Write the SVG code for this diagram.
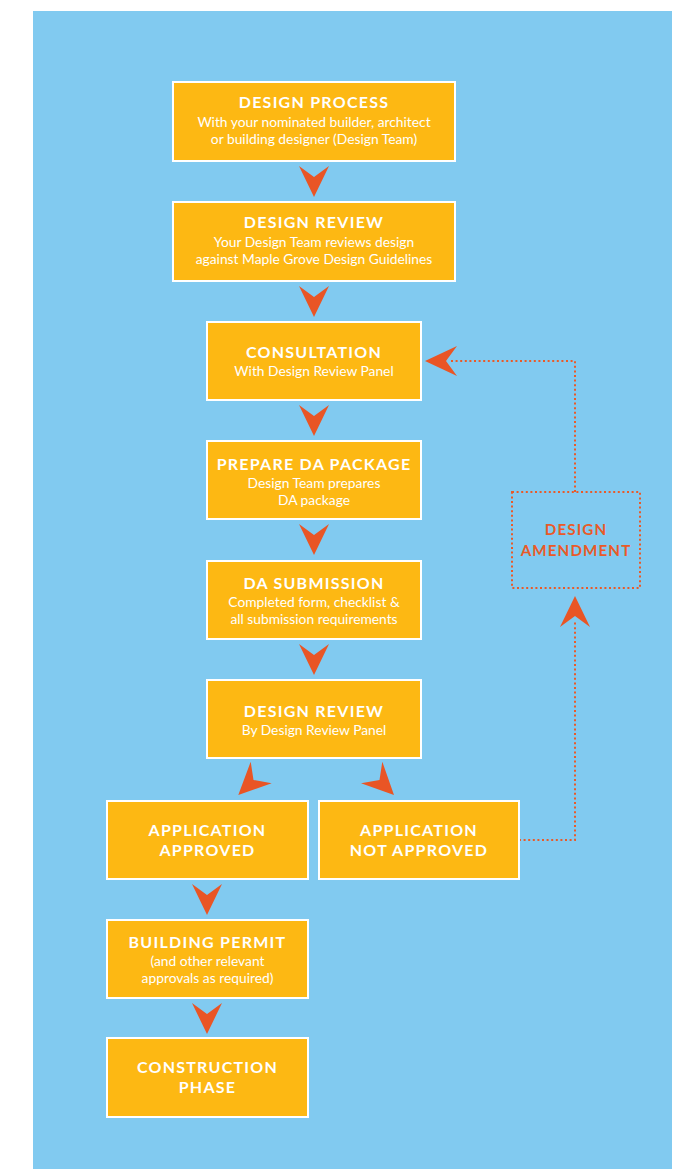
<svg xmlns="http://www.w3.org/2000/svg" width="683" height="1169" viewBox="0 0 683 1169">
<style>
.box{fill:#FDB813;stroke:#FFFFFF;stroke-width:2}
.t{font-family:Lato,"Liberation Sans",sans-serif;font-weight:700;font-size:16px;letter-spacing:1.25px;fill:#FFFFFF;text-anchor:middle}
.s{font-family:Lato,"Liberation Sans",sans-serif;font-weight:400;font-size:13.8px;fill:#FFFFFF;text-anchor:middle}
.a{font-family:Lato,"Liberation Sans",sans-serif;font-weight:700;font-size:15.2px;letter-spacing:1.1px;fill:#E95A28;text-anchor:middle}
.arr{fill:#E95525}
.dot{fill:none;stroke:#E95A28;stroke-width:2;stroke-dasharray:2 2.6}
</style>
<rect x="33" y="11" width="639" height="1158" fill="#81CAF0"/>
<g id="connectors">
<path class="arr" d="M299,166 L314,177 L329,166 L314,197 Z"/>
<path class="arr" d="M299,286 L314,297 L329,286 L314,317 Z"/>
<path class="arr" d="M299,405 L314,416 L329,405 L314,436 Z"/>
<path class="arr" d="M299,524 L314,535 L329,524 L314,555 Z"/>
<path class="arr" d="M299,644 L314,655 L329,644 L314,675 Z"/>
<path class="arr" d="M192,884 L207,895 L222,884 L207,915 Z"/>
<path class="arr" d="M192,1003 L207,1014 L222,1003 L207,1034 Z"/>
<path class="arr" d="M250.7,761.7 L253.5,780 L271.7,783.3 L238.3,795 Z"/>
<path class="arr" d="M382.3,761.7 L379.5,780 L361,783.3 L394,795 Z"/>
<path class="dot" d="M519,840 H575 V622"/>
<path class="arr" d="M575,596 L590,627 L575,616 L560,627 Z"/>
<path class="dot" d="M575,492 V361 H450"/>
<path class="arr" d="M425,361 L457,346 L446,361 L457,376 Z"/>
</g>
<g id="design-process">
<rect class="box" x="173" y="82" width="282" height="79"/>
<text class="t" x="314" y="108">DESIGN PROCESS</text>
<text class="s" x="314" y="127">With your nominated builder, architect</text>
<text class="s" x="314" y="144">or building designer (Design Team)</text>
</g>
<g id="design-review-1">
<rect class="box" x="173" y="202" width="282" height="79"/>
<text class="t" x="314" y="227.5">DESIGN REVIEW</text>
<text class="s" x="314" y="246.5">Your Design Team reviews design</text>
<text class="s" x="314" y="264">against Maple Grove Design Guidelines</text>
</g>
<g id="consultation">
<rect class="box" x="207" y="322" width="214" height="78"/>
<text class="t" x="314" y="358">CONSULTATION</text>
<text class="s" x="314" y="375.5">With Design Review Panel</text>
</g>
<g id="prepare-da">
<rect class="box" x="207" y="441" width="214" height="78"/>
<text class="t" x="314" y="470">PREPARE DA PACKAGE</text>
<text class="s" x="314" y="487.5">Design Team prepares</text>
<text class="s" x="314" y="505">DA package</text>
</g>
<g id="da-submission">
<rect class="box" x="207" y="561" width="214" height="78"/>
<text class="t" x="314" y="588.5">DA SUBMISSION</text>
<text class="s" x="314" y="607">Completed form, checklist &amp;</text>
<text class="s" x="314" y="623.5">all submission requirements</text>
</g>
<g id="design-review-2">
<rect class="box" x="207" y="680" width="214" height="78"/>
<text class="t" x="314" y="716.5">DESIGN REVIEW</text>
<text class="s" x="314" y="735">By Design Review Panel</text>
</g>
<g id="app-approved">
<rect class="box" x="107" y="801" width="201" height="78"/>
<text class="t" x="207.5" y="835.5">APPLICATION</text>
<text class="t" x="207.5" y="855.5">APPROVED</text>
</g>
<g id="app-not-approved">
<rect class="box" x="319" y="801" width="200" height="78"/>
<text class="t" x="419" y="835.5">APPLICATION</text>
<text class="t" x="419" y="855.5">NOT APPROVED</text>
</g>
<g id="building-permit">
<rect class="box" x="107" y="920" width="201" height="78"/>
<text class="t" x="207.5" y="947.5">BUILDING PERMIT</text>
<text class="s" x="207.5" y="965.5">(and other relevant</text>
<text class="s" x="207.5" y="982.5">approvals as required)</text>
</g>
<g id="construction">
<rect class="box" x="107" y="1038" width="201" height="79"/>
<text class="t" x="207.5" y="1072.5">CONSTRUCTION</text>
<text class="t" x="207.5" y="1093">PHASE</text>
</g>
<g id="design-amendment">
<rect class="dot" x="512" y="492" width="128" height="96"/>
<text class="a" x="576" y="535">DESIGN</text>
<text class="a" x="576" y="555.5">AMENDMENT</text>
</g>
</svg>
